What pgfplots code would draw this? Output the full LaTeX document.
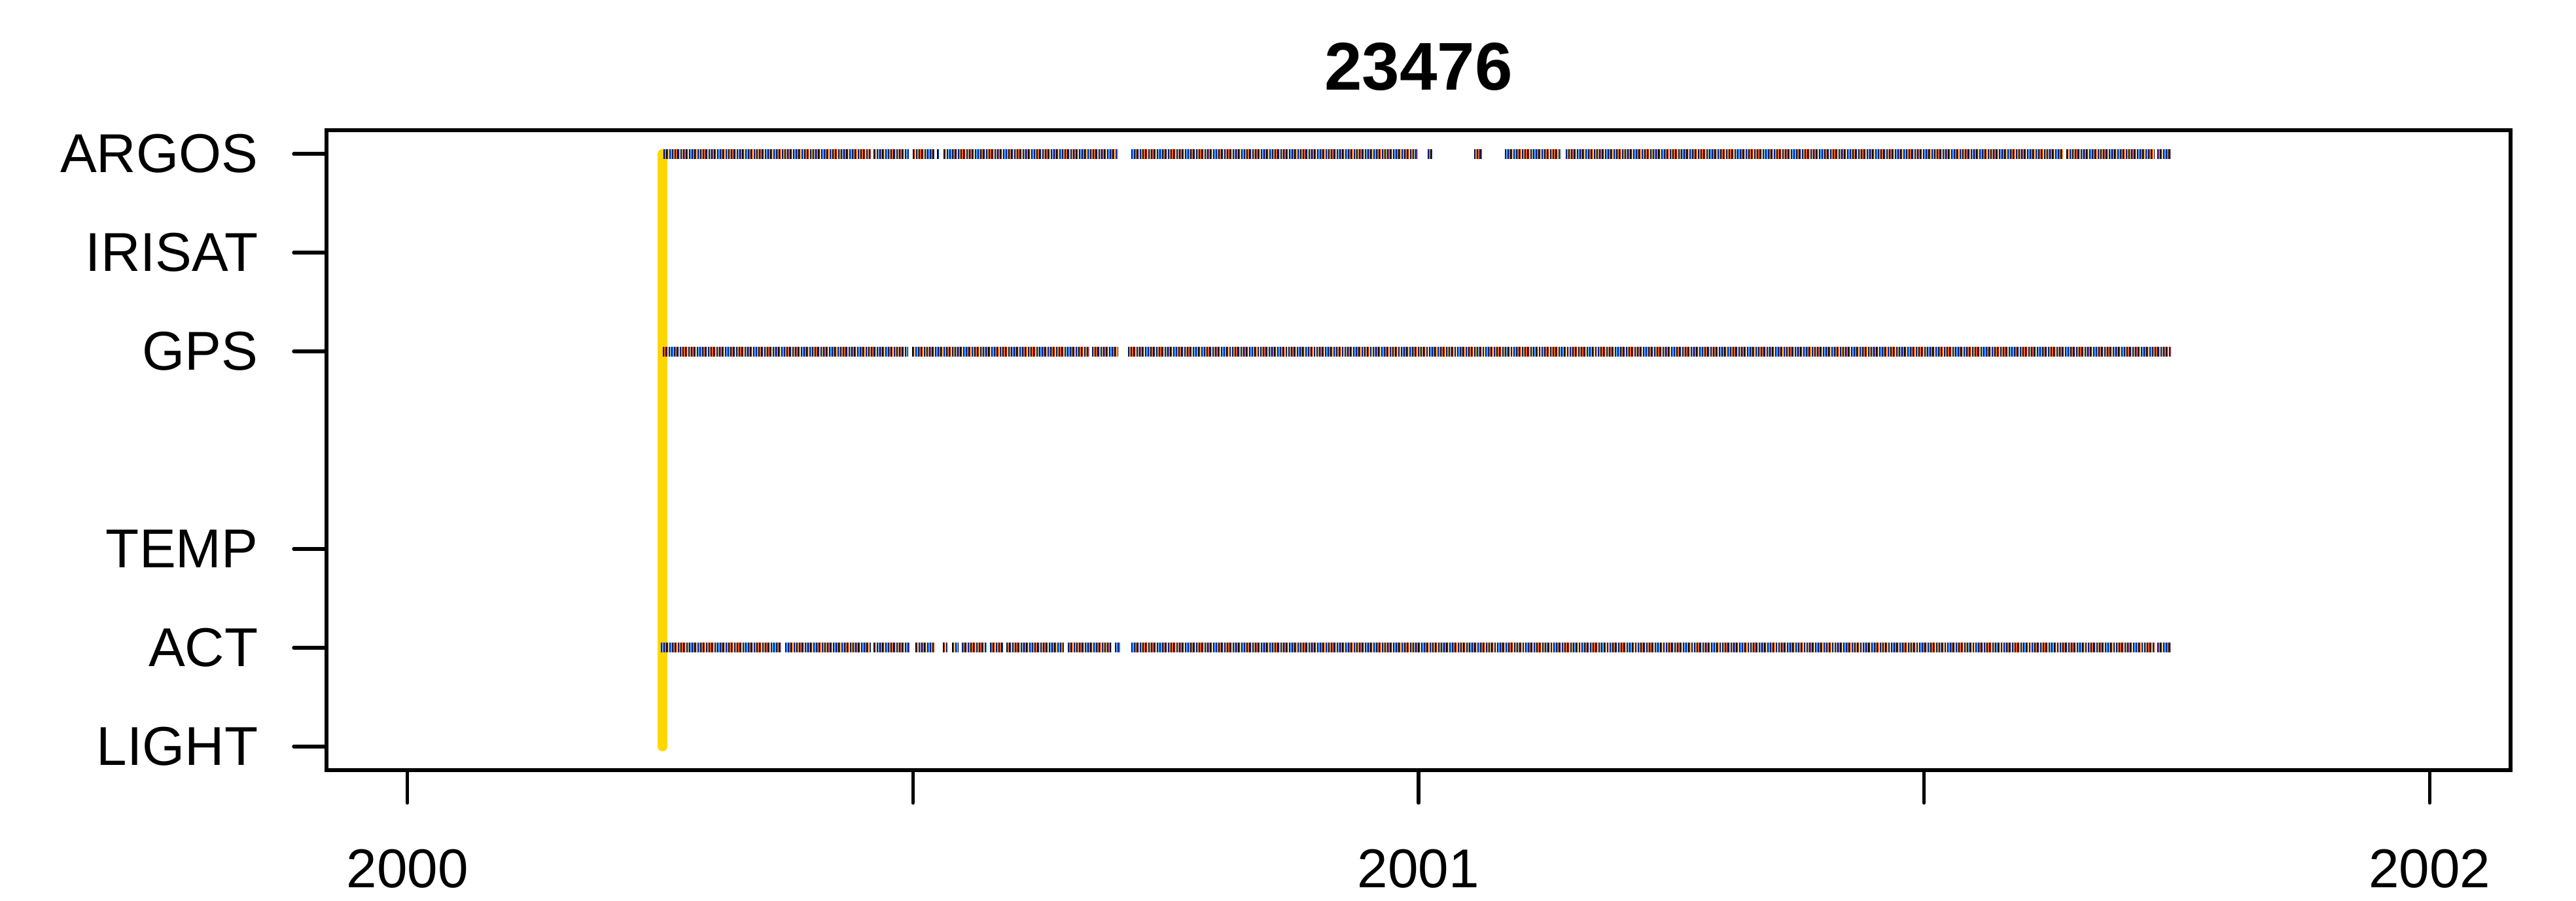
\documentclass[border=0pt]{standalone}
\usepackage{pgfplots}
\pgfplotsset{compat=1.18}
\usepackage{pgfplotstable}
\usepackage{fontspec}
\setmainfont{Liberation Sans}

\definecolor{gold}{RGB}{255,215,0}
\definecolor{stripeB}{RGB}{0,60,240}
\definecolor{stripeR}{RGB}{230,40,0}
\definecolor{stripeO}{RGB}{255,170,60}
\definecolor{stripeC}{RGB}{60,170,255}

% data segments per sensor (start / end in decimal years, nan breaks the line)
\pgfplotstableread{
x y
2000.2532 7
2000.4580 7
2000.4580 nan
2000.4612 7
2000.4955 7
2000.4955 nan
2000.5000 7
2000.5207 7
2000.5207 nan
2000.5239 7
2000.5252 7
2000.5252 nan
2000.5304 7
2000.7028 7
2000.7028 nan
2000.7158 7
2000.9994 7
2000.9994 nan
2001.0090 7
2001.0129 7
2001.0129 nan
2001.0549 7
2001.0620 7
2001.0620 nan
2001.0853 7
2001.1408 7
2001.1408 nan
2001.1453 7
2001.6370 7
2001.6370 nan
2001.6408 7
2001.7274 7
2001.7274 nan
2001.7306 7
2001.7436 7
}\argos

\pgfplotstableread{
x y
2000.2526 5
2000.4955 5
2000.4955 nan
2000.4994 5
2000.6738 5
2000.6738 nan
2000.6770 5
2000.7022 5
2000.7022 nan
2000.7125 5
2001.7436 5
}\gps

\pgfplotstableread{
x y
2000.2506 2
2000.3702 2
2000.3702 nan
2000.3734 2
2000.4580 2
2000.4580 nan
2000.4612 2
2000.4961 2
2000.4961 nan
2000.5026 2
2000.5207 2
2000.5207 nan
2000.5297 2
2000.5336 2
2000.5336 nan
2000.5388 2
2000.5452 2
2000.5452 nan
2000.5484 2
2000.5724 2
2000.5724 nan
2000.5762 2
2000.5885 2
2000.5885 nan
2000.5924 2
2000.6492 2
2000.6492 nan
2000.6531 2
2000.6957 2
2000.6957 nan
2000.6996 2
2000.7041 2
2000.7041 nan
2000.7158 2
2001.7274 2
2001.7274 nan
2001.7306 2
2001.7436 2
}\act

\newcommand\striperow[1]{%
  \addplot[black, line width=1.5mm, dash pattern=on 0.13mm off 0.30mm] table {#1};
  \addplot[stripeB, line width=1.5mm, dash pattern=on 0pt off 0.13mm on 0.08mm off 0.22mm] table {#1};
  \addplot[stripeR, line width=1.5mm, dash pattern=on 0pt off 0.21mm on 0.05mm off 0.17mm] table {#1};
  \addplot[stripeC, line width=1.5mm, dash pattern=on 0pt off 0.26mm on 0.04mm off 0.13mm] table {#1};
  \addplot[stripeO, line width=1.5mm, dash pattern=on 0pt off 0.30mm on 0.04mm off 0.09mm] table {#1};
}

\begin{document}
\begin{tikzpicture}
\begin{axis}[
    scale only axis,
    width=333.8mm, height=97.8mm,
    xmin=1999.92, xmax=2002.08,
    ymin=0.76, ymax=7.24,
    xtick={2000,2000.5,2001,2001.5,2002},
    xticklabels={2000,,2001,,2002},
    ytick={1,2,3,5,6,7},
    yticklabels={LIGHT,ACT,TEMP,GPS,IRISAT,ARGOS},
    xtick pos=bottom, ytick pos=left,
    tick align=outside,
    major tick length=5mm,
    tick style={line width=0.55mm, black, line cap=round},
    axis line style={line width=0.55mm},
    tick label style={font=\fontsize{23.8}{28}\selectfont, inner sep=0pt},
    xticklabel style={yshift=-7mm},
    yticklabel style={xshift=-5.4mm},
    title={23476},
    every axis title/.style={at={(0.5,1)}, anchor=base, yshift=6.1mm, inner sep=0pt,
        font=\bfseries\fontsize{29.4}{34}\selectfont},
    unbounded coords=jump,
    every axis plot/.append style={mark=none},
]
\addplot[gold, line width=1.5mm, line cap=round] coordinates {(2000.2523,1) (2000.2523,7)};
\striperow{\argos}
\striperow{\gps}
\striperow{\act}
\end{axis}
\pgfresetboundingbox
\path (-49.9mm,-20mm) rectangle ++(393.7mm,137.7mm);
\end{tikzpicture}
\end{document}
